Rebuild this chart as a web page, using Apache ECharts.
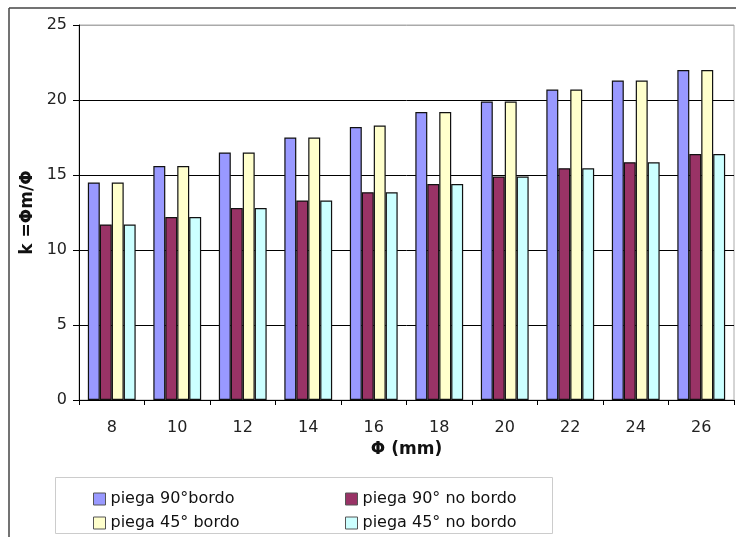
<!DOCTYPE html>
<html>
<head>
<meta charset="utf-8">
<script src="https://cdn.jsdelivr.net/npm/echarts@6/dist/echarts.min.js"></script>
<style>
html,body{margin:0;padding:0;background:#fff;}
#chart{width:736px;height:537px;}
</style>
</head>
<body>
<div id="chart"></div>
<script>
const categories = ['8','10','12','14','16','18','20','22','24','26'];
const piega90Bordo = [14.5, 15.6, 16.5, 17.5, 18.2, 19.2, 19.9, 20.7, 21.3, 22.0];
const piega90NoBordo = [11.7, 12.2, 12.8, 13.3, 13.85, 14.4, 14.9, 15.45, 15.85, 16.4];
const piega45Bordo = [14.5, 15.6, 16.5, 17.5, 18.3, 19.2, 19.9, 20.7, 21.3, 22.0];
const piega45NoBordo = [11.7, 12.2, 12.8, 13.3, 13.85, 14.4, 14.9, 15.45, 15.85, 16.4];
const seriesNames = ['piega 90°bordo', 'piega 90° no bordo', 'piega 45° bordo', 'piega 45° no bordo'];
const seriesData = [piega90Bordo, piega90NoBordo, piega45Bordo, piega45NoBordo];
const seriesColors = ['#9999FF', '#993366', '#FFFFCC', '#CCFFFF'];

const FONT = 'DejaVu Sans';
const chart = echarts.init(document.getElementById('chart'), null, {renderer: 'canvas'});

const series = seriesNames.map((name, i) => ({
  name: name,
  type: 'bar',
  data: seriesData[i],
  barGap: '0%',
  barCategoryGap: '27%',
  itemStyle: {color: seriesColors[i], borderColor: '#111', borderWidth: 1.2},
  emphasis: {disabled: true},
  animation: false
}));

const legendBase = {
  orient: 'vertical',
  icon: 'rect',
  itemWidth: 12,
  itemHeight: 12,
  itemGap: 8,
  textStyle: {fontFamily: FONT, fontSize: 16, color: '#111'},
  selectedMode: false,
  itemStyle: {borderWidth: 1, borderColor: '#555'}
};

chart.setOption({
  animation: false,
  backgroundColor: '#fff',
  grid: {left: 79, right: 2, top: 25, bottom: 137, show: true, borderColor: '#aaa', borderWidth: 1, containLabel: false},
  xAxis: {
    type: 'category',
    data: categories,
    name: 'Φ (mm)',
    nameLocation: 'middle',
    nameGap: 35,
    nameTextStyle: {fontFamily: FONT, fontSize: 17, fontWeight: 'bold', color: '#111'},
    axisLine: {lineStyle: {color: '#000', width: 1}},
    axisTick: {show: true, length: 5, lineStyle: {color: '#000'}},
    axisLabel: {fontFamily: FONT, fontSize: 16, color: '#222', margin: 20}
  },
  yAxis: {
    type: 'value',
    min: 0, max: 25, interval: 5,
    name: 'k =Φm/Φ',
    nameLocation: 'middle',
    nameGap: 43,
    nameRotate: 90,
    nameTextStyle: {fontFamily: FONT, fontSize: 17, fontWeight: 'bold', color: '#111'},
    axisLine: {show: true, lineStyle: {color: '#000', width: 1}},
    axisTick: {show: true, length: 6, lineStyle: {color: '#000'}},
    axisLabel: {fontFamily: FONT, fontSize: 16, color: '#222', margin: 12},
    splitLine: {show: true, lineStyle: {color: ['#000','#000','#000','#000','#000','#aaa'], width: 1}}
  },
  legend: [
    Object.assign({}, legendBase, {left: 88, top: 486, data: [seriesNames[0], seriesNames[2]]}),
    Object.assign({}, legendBase, {left: 340, top: 486, data: [seriesNames[1], seriesNames[3]]})
  ],
  graphic: [
    {type: 'rect', shape: {x: 55.5, y: 477.5, width: 497, height: 56}, style: {fill: 'none', stroke: '#ccc', lineWidth: 1}, z: -1},
    {type: 'line', shape: {x1: 9, y1: 8, x2: 9, y2: 537}, style: {stroke: '#444', lineWidth: 1.5}},
    {type: 'line', shape: {x1: 9, y1: 8, x2: 736, y2: 8}, style: {stroke: '#444', lineWidth: 1.5}}
  ],
  series: series
});
</script>
</body>
</html>
